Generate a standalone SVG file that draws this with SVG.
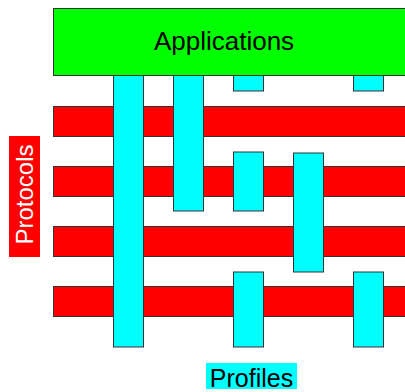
<svg xmlns="http://www.w3.org/2000/svg" width="405" height="392" viewBox="0 0 405 392">
<style>
.proto{fill:#ff0000;stroke:#333;stroke-width:1}
.prof{fill:#00ffff;stroke:#333;stroke-width:1}
.app{fill:#00ff00;stroke:#333;stroke-width:1}
text{font-family:"Liberation Sans",Arial,sans-serif}
</style>
<rect width="405" height="392" fill="#fff"/>
<g id="protocol-bars">
<rect class="proto" x="53.5" y="106.5" width="360" height="30"/>
<rect class="proto" x="53.5" y="166.5" width="360" height="30"/>
<rect class="proto" x="53.5" y="226.5" width="360" height="30"/>
<rect class="proto" x="53.5" y="286.5" width="360" height="30"/>
</g>
<g id="profile-bars">
<rect class="prof" x="113.5" y="72" width="30" height="275"/>
<rect class="prof" x="173.5" y="72" width="30" height="139"/>
<rect class="prof" x="233.5" y="72" width="30" height="19"/>
<rect class="prof" x="233.5" y="152" width="30" height="59"/>
<rect class="prof" x="233.5" y="272" width="30" height="75"/>
<rect class="prof" x="293.5" y="153" width="30" height="119"/>
<rect class="prof" x="353.5" y="72" width="30" height="19"/>
<rect class="prof" x="353.5" y="272" width="30" height="75"/>
</g>
<g id="applications">
<rect class="app" x="53.5" y="8.5" width="360" height="67"/>
<text x="224" y="50" font-size="26" text-anchor="middle" fill="#000">Applications</text>
</g>
<g id="protocols-label">
<rect x="9" y="136" width="31" height="121" fill="#ff0000"/>
<text x="0" y="0" transform="translate(33,194.5) rotate(-90)" font-size="24" text-anchor="middle" fill="#fff">Protocols</text>
</g>
<g id="profiles-label">
<rect x="206" y="363" width="91" height="26" fill="#00ffff"/>
<text x="251.5" y="386.5" font-size="25" text-anchor="middle" fill="#000">Profiles</text>
</g>
</svg>
